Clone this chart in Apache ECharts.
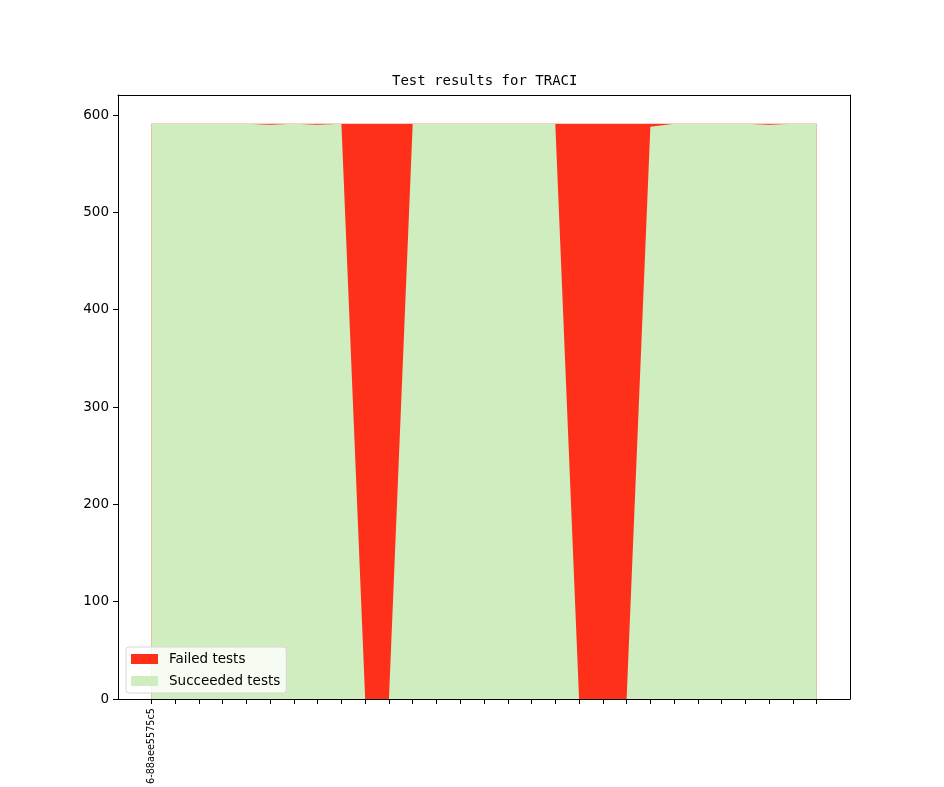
<!DOCTYPE html>
<html>
<head>
<meta charset="utf-8">
<title>Test results for TRACI</title>
<script src="https://cdn.jsdelivr.net/npm/echarts@6/dist/echarts.min.js"></script>
<style>
  html, body {margin: 0; padding: 0; background: #fff;}
  #chart {width: 944px; height: 787px;}
</style>
</head>
<body>
<div id="chart"></div>
<script>
// commit labels (only the first one is printed on the axis)
const categories = ['6-88aee5575c5', '', '', '', '', '', '', '', '', '', '', '', '', '', '',
  '', '', '', '', '', '', '', '', '', '', '', '', '', ''];
const failed = [0, 0, 0, 0, 0, 1, 0, 1, 0, 591, 591, 0, 0, 0, 0, 0, 0, 0, 591, 591, 591, 3, 0, 0, 0, 0, 1, 0, 0];
const succeeded = [591, 591, 591, 591, 591, 590, 591, 590, 591, 0, 0, 591, 591, 591, 591, 591, 591, 591, 0, 0, 0, 588, 591, 591, 591, 591, 590, 591, 591];
const yTicks = [0, 100, 200, 300, 400, 500, 600];

const RED = '#ff3019';
const GREEN = '#cfedbf';

// matplotlib style 5% margins around the data
const n = categories.length;
const xPad = (n - 1) * 0.05;
const yMax = 591 * 1.05;

// failed tests sit on top of the succeeded ones, so the red area
// runs from 0 up to succeeded + failed and the green one is drawn over it
const failedTop = succeeded.map(function (v, i) { return [i, v + failed[i]]; });
const succeededPts = succeeded.map(function (v, i) { return [i, v]; });

const spine = {show: true, onZero: false, lineStyle: {color: '#000', width: 1}};

const chart = echarts.init(document.getElementById('chart'));
chart.setOption({
  animation: false,
  title: {
    text: 'Test results for TRACI',
    left: 392,
    top: 74,
    padding: 0,
    textStyle: {
      fontFamily: 'DejaVu Sans Mono',
      fontSize: 14,
      fontWeight: 'normal',
      color: '#000'
    }
  },
  legend: {
    data: ['Failed tests', 'Succeeded tests'],
    orient: 'vertical',
    left: 126,
    top: 647,
    padding: [5, 6, 5, 5],
    itemWidth: 27,
    itemHeight: 10,
    itemGap: 8,
    icon: 'rect',
    backgroundColor: 'rgba(255,255,255,0.8)',
    borderColor: '#d6d6d6',
    borderWidth: 1,
    borderRadius: 3,
    z: 10,
    textStyle: {
      fontFamily: 'DejaVu Sans',
      fontSize: 13.5,
      color: '#000',
      padding: [0, 0, 0, 6]
    }
  },
  grid: {
    left: 118,
    right: 94,
    top: 95,
    bottom: 87
  },
  xAxis: [
    {
      type: 'value',
      z: 5,
      min: -xPad,
      max: n - 1 + xPad,
      splitLine: {show: false},
      axisLine: spine,
      axisTick: {
        show: true,
        length: 5,
        lineStyle: {color: '#000'},
        customValues: categories.map(function (c, i) { return i; })
      },
      axisLabel: {
        customValues: [0],
        rotate: 90,
        margin: 9,
        fontFamily: 'DejaVu Sans',
        fontSize: 9.7,
        color: '#000',
        formatter: function (v) { return categories[Math.round(v)] || ''; }
      }
    },
    {
      // top spine only
      type: 'value',
      position: 'top',
      z: 5,
      min: -xPad,
      max: n - 1 + xPad,
      splitLine: {show: false},
      axisLine: spine,
      axisTick: {show: false},
      axisLabel: {show: false}
    }
  ],
  yAxis: [
    {
      type: 'value',
      z: 5,
      min: 0,
      max: yMax,
      splitLine: {show: false},
      axisLine: spine,
      axisTick: {
        show: true,
        length: 5,
        lineStyle: {color: '#000'},
        customValues: yTicks
      },
      axisLabel: {
        customValues: yTicks,
        margin: 9,
        fontFamily: 'DejaVu Sans',
        fontSize: 13.5,
        color: '#000'
      }
    },
    {
      // right spine only
      type: 'value',
      position: 'right',
      z: 5,
      min: 0,
      max: yMax,
      splitLine: {show: false},
      axisLine: spine,
      axisTick: {show: false},
      axisLabel: {show: false}
    }
  ],
  series: [
    {
      name: 'Failed tests',
      type: 'line',
      data: failedTop,
      symbol: 'none',
      color: RED,
      z: 2,
      lineStyle: {width: 0},
      areaStyle: {color: RED, opacity: 1}
    },
    {
      name: 'Succeeded tests',
      type: 'line',
      data: succeededPts,
      symbol: 'none',
      color: GREEN,
      z: 3,
      lineStyle: {width: 0},
      areaStyle: {color: GREEN, opacity: 1}
    }
  ]
});
</script>
</body>
</html>
